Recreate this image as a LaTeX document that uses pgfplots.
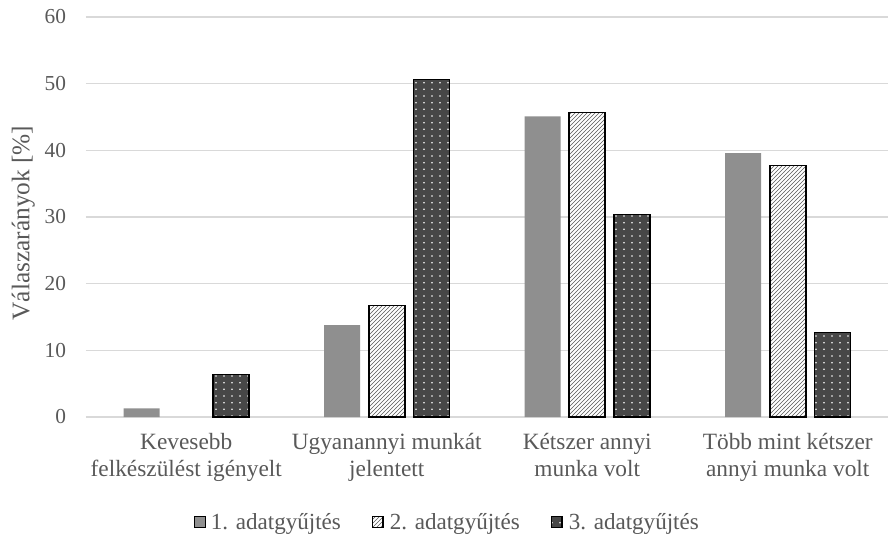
\documentclass[border=0pt]{standalone}
\usepackage{pgfplots}
\pgfplotsset{compat=1.18}
\usepackage{fontspec}
\setmainfont{Liberation Serif}
\usetikzlibrary{patterns,patterns.meta}
\definecolor{txt}{HTML}{595959}
\definecolor{gridc}{HTML}{D9D9D9}
\definecolor{b1}{HTML}{8F8F8F}
\definecolor{b3}{HTML}{474747}
\tikzdeclarepattern{
  name=sparsedots,
  type=uncolored,
  bounding box={(-0.8pt,-0.8pt) and (0.8pt,0.8pt)},
  tile size={(6pt,5pt)},
  code={\fill (0pt,0pt) circle (0.65pt);}
}
\begin{document}
\begin{tikzpicture}
\begin{axis}[
  name=ax,
  scale only axis, width=601.5pt, height=300pt,
  ybar=6.5pt, bar width=27pt,
  xmin=-0.5, xmax=3.5, ymin=0, ymax=60,
  ytick={0,10,...,60},
  xtick={0,1,2,3},
  xticklabels={{Kevesebb\\felkészülést igényelt},{Ugyanannyi munkát\\jelentett},{Kétszer annyi\\munka volt},{Több mint kétszer\\annyi munka volt}},
  font=\fontsize{16}{20}\selectfont,
  xticklabel style={align=center, text=txt, yshift=-9pt, font=\fontsize{17.5}{20.25}\selectfont},
  yticklabel style={text=txt, xshift=-11.5pt},
  /pgf/number format/assume math mode=true,
  major tick length=0pt,
  axis line style={draw=none},
  ymajorgrids, grid style={gridc, line width=0.9pt},
  ylabel={Válaszarányok [\%]},
  ylabel style={text=txt, font=\fontsize{19}{22}\selectfont, at={([xshift=-47pt]rel axis cs:0,0.485)}, anchor=center, rotate=0},
  legend columns=3,
  legend style={draw=none, at={(0.451,-0.2625)}, anchor=center, text=txt,
    font=\fontsize{17.3}{20}\selectfont,
    /tikz/every even column/.append style={column sep=21pt}},
  legend image code/.code={\draw[#1] (0pt,-4pt) rectangle (8pt,4pt); \path (10.5pt,0pt);},
]
\addplot[fill=b1, draw=none] coordinates {(0,1.3) (1,13.8) (2,45.1) (3,39.6)};
\addplot[fill=white, draw=black, line width=1.2pt, postaction={pattern=north east lines, pattern color=black!65}] coordinates {(1,16.7) (2,45.7) (3,37.7)};
\addplot[fill=b3, draw=black, line width=1.2pt, postaction={pattern=sparsedots, pattern color=white}] coordinates {(0,6.4) (1,50.6) (2,30.4) (3,12.7)};
\legend{1. adatgyűjtés, 2. adatgyűjtés, 3. adatgyűjtés}
\end{axis}
\pgfresetboundingbox
\path ([shift={(-64.5pt,-89.25pt)}]ax.south west) rectangle ([shift={(0pt,12.75pt)}]ax.north east);
\end{tikzpicture}
\end{document}
